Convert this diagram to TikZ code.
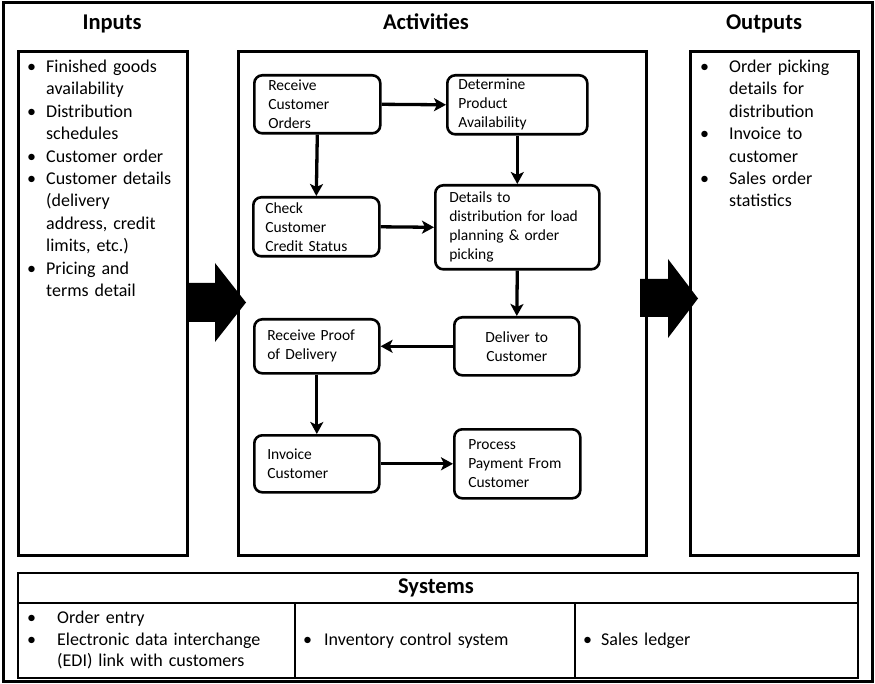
\documentclass[tikz,border=0pt]{standalone}
\usepackage{fontspec}
\setmainfont{Carlito}
\usetikzlibrary{arrows.meta}
\newcommand{\bul}[2]{\par\noindent\hangindent=#1\hangafter=1\makebox[#1][l]{\textbullet}#2}
\begin{document}
\begin{tikzpicture}[x=1pt,y=-1pt,
  frame/.style={draw, line width=3pt},
  mainbox/.style={draw, line width=3pt, fill=white, anchor=north west, inner sep=0pt},
  act/.style={draw, line width=2.6pt, rounded corners=8pt, fill=white, anchor=north west,
    font=\fontsize{15.5}{19}\selectfont, align=left, inner ysep=0pt},
  head/.style={font=\fontsize{22.5}{26}\selectfont\bfseries, anchor=base},
  blist/.style={font=\fontsize{18}{22.4}\selectfont, anchor=north west, inner sep=0pt, text width=170pt},
  slist/.style={font=\fontsize{18}{21.5}\selectfont, anchor=north west, inner sep=0pt, text width=260pt},
  conn/.style={line width=3.3pt, -{Stealth[length=12pt,width=13pt,inset=3pt]}},
  sysline/.style={line width=2.2pt}
]
\useasboundingbox (0,0) rectangle (875,684);
\fill[white] (0,0) rectangle (875,684);
\draw[frame] (3,3) rectangle (872,681);

% headings
\node[head] (hin) at (112,30) {Inputs};
\node[head] (hact) at (426,30) {Activities};
\node[head] (hout) at (764,30) {Outputs};

% main boxes
\node[mainbox, minimum width=169pt, minimum height=504pt] (inbox) at (17,50) {};
\node[mainbox, minimum width=408pt, minimum height=504pt] (actbox) at (237,50) {};
\node[mainbox, minimum width=168pt, minimum height=504pt] (outbox) at (689,50) {};

% inputs list
\node[blist] (inlist) at (27,50) {\raggedright
\bul{19pt}{Finished goods\newline availability}
\bul{19pt}{Distribution\newline schedules}
\bul{19pt}{Customer order}
\bul{19pt}{Customer details\newline (delivery\newline address, credit\newline limits, etc.)}
\bul{19pt}{Pricing and\newline terms detail}\par};

% outputs list
\node[blist] (outlist) at (700,50) {\raggedright
\bul{29pt}{Order picking\newline details for\newline distribution}
\bul{29pt}{Invoice to\newline customer}
\bul{29pt}{Sales order\newline statistics}\par};

% activities
\node[act, inner xsep=14pt, text width=98pt, minimum height=58pt] (rco) at (253,74) {Receive\\Customer\\Orders};
\node[act, inner xsep=11pt, text width=118pt, minimum height=59pt] (dpa) at (446,74) {Determine\\Product\\Availability};
\node[act, inner xsep=12pt, text width=102pt, minimum height=59pt] (chk) at (252,196) {Check\\Customer\\Credit Status};
\node[act, inner xsep=14pt, text width=136pt, minimum height=84pt] (det) at (434,184) {Details to\\distribution for load\\planning \& order\\picking};
\node[act, inner xsep=10pt, text width=105pt, minimum height=58pt, align=center] (dlv) at (453,316) {Deliver to\\Customer};
\node[act, inner xsep=13pt, text width=99pt, minimum height=54pt] (rpd) at (253,318) {Receive Proof\\of Delivery};
\node[act, inner xsep=13pt, text width=99pt, minimum height=57pt] (inv) at (253,434) {Invoice\\Customer};
\node[act, inner xsep=14pt, text width=98pt, minimum height=69pt] (ppc) at (453,428) {Process\\Payment From\\Customer};

% connectors
\draw[conn] (rco.east) -- (dpa.west);
\draw[conn] (rco.south) -- (chk.north);
\draw[conn] (chk.east) -- (det.west);
\draw[conn] (dpa.south) -- (det.north);
\draw[conn] (det.south) -- (dlv.north);
\draw[conn] (dlv.west) -- (rpd.east);
\draw[conn] (rpd.south) -- (inv.north);
\draw[conn] (inv.east) -- (ppc.west);

% big block arrows
\fill (187,283) -- (215,283) -- (215,263) -- (246,302.5) -- (215,342) -- (215,322) -- (187,322) -- cycle;
\fill (640,279) -- (668,279) -- (668,259) -- (698,298.5) -- (668,338) -- (668,317) -- (640,317) -- cycle;

% systems
\node[draw, sysline, anchor=north west, minimum width=840pt, minimum height=105pt, inner sep=0pt] (sysbox) at (17,572) {};
\coordinate (sl) at (17,603);
\coordinate (sr) at (857,603);
\draw[sysline] (sl) -- (sr);
\coordinate (d1t) at (295,603);
\coordinate (d1b) at (295,677);
\coordinate (d2t) at (575,603);
\coordinate (d2b) at (575,677);
\draw[sysline] (d1t) -- (d1b);
\draw[sysline] (d2t) -- (d2b);
\node[head] (hsys) at (436,593) {Systems};
\node[slist] (s1) at (27,602) {\raggedright
\bul{30pt}{Order entry}
\bul{30pt}{Electronic data interchange\newline (EDI) link with customers}\par};
\node[slist] (s2) at (303,624) {\raggedright\bul{21pt}{Inventory control system}\par};
\node[slist] (s3) at (583,624) {\raggedright\bul{18pt}{Sales ledger}\par};
\end{tikzpicture}
\end{document}
